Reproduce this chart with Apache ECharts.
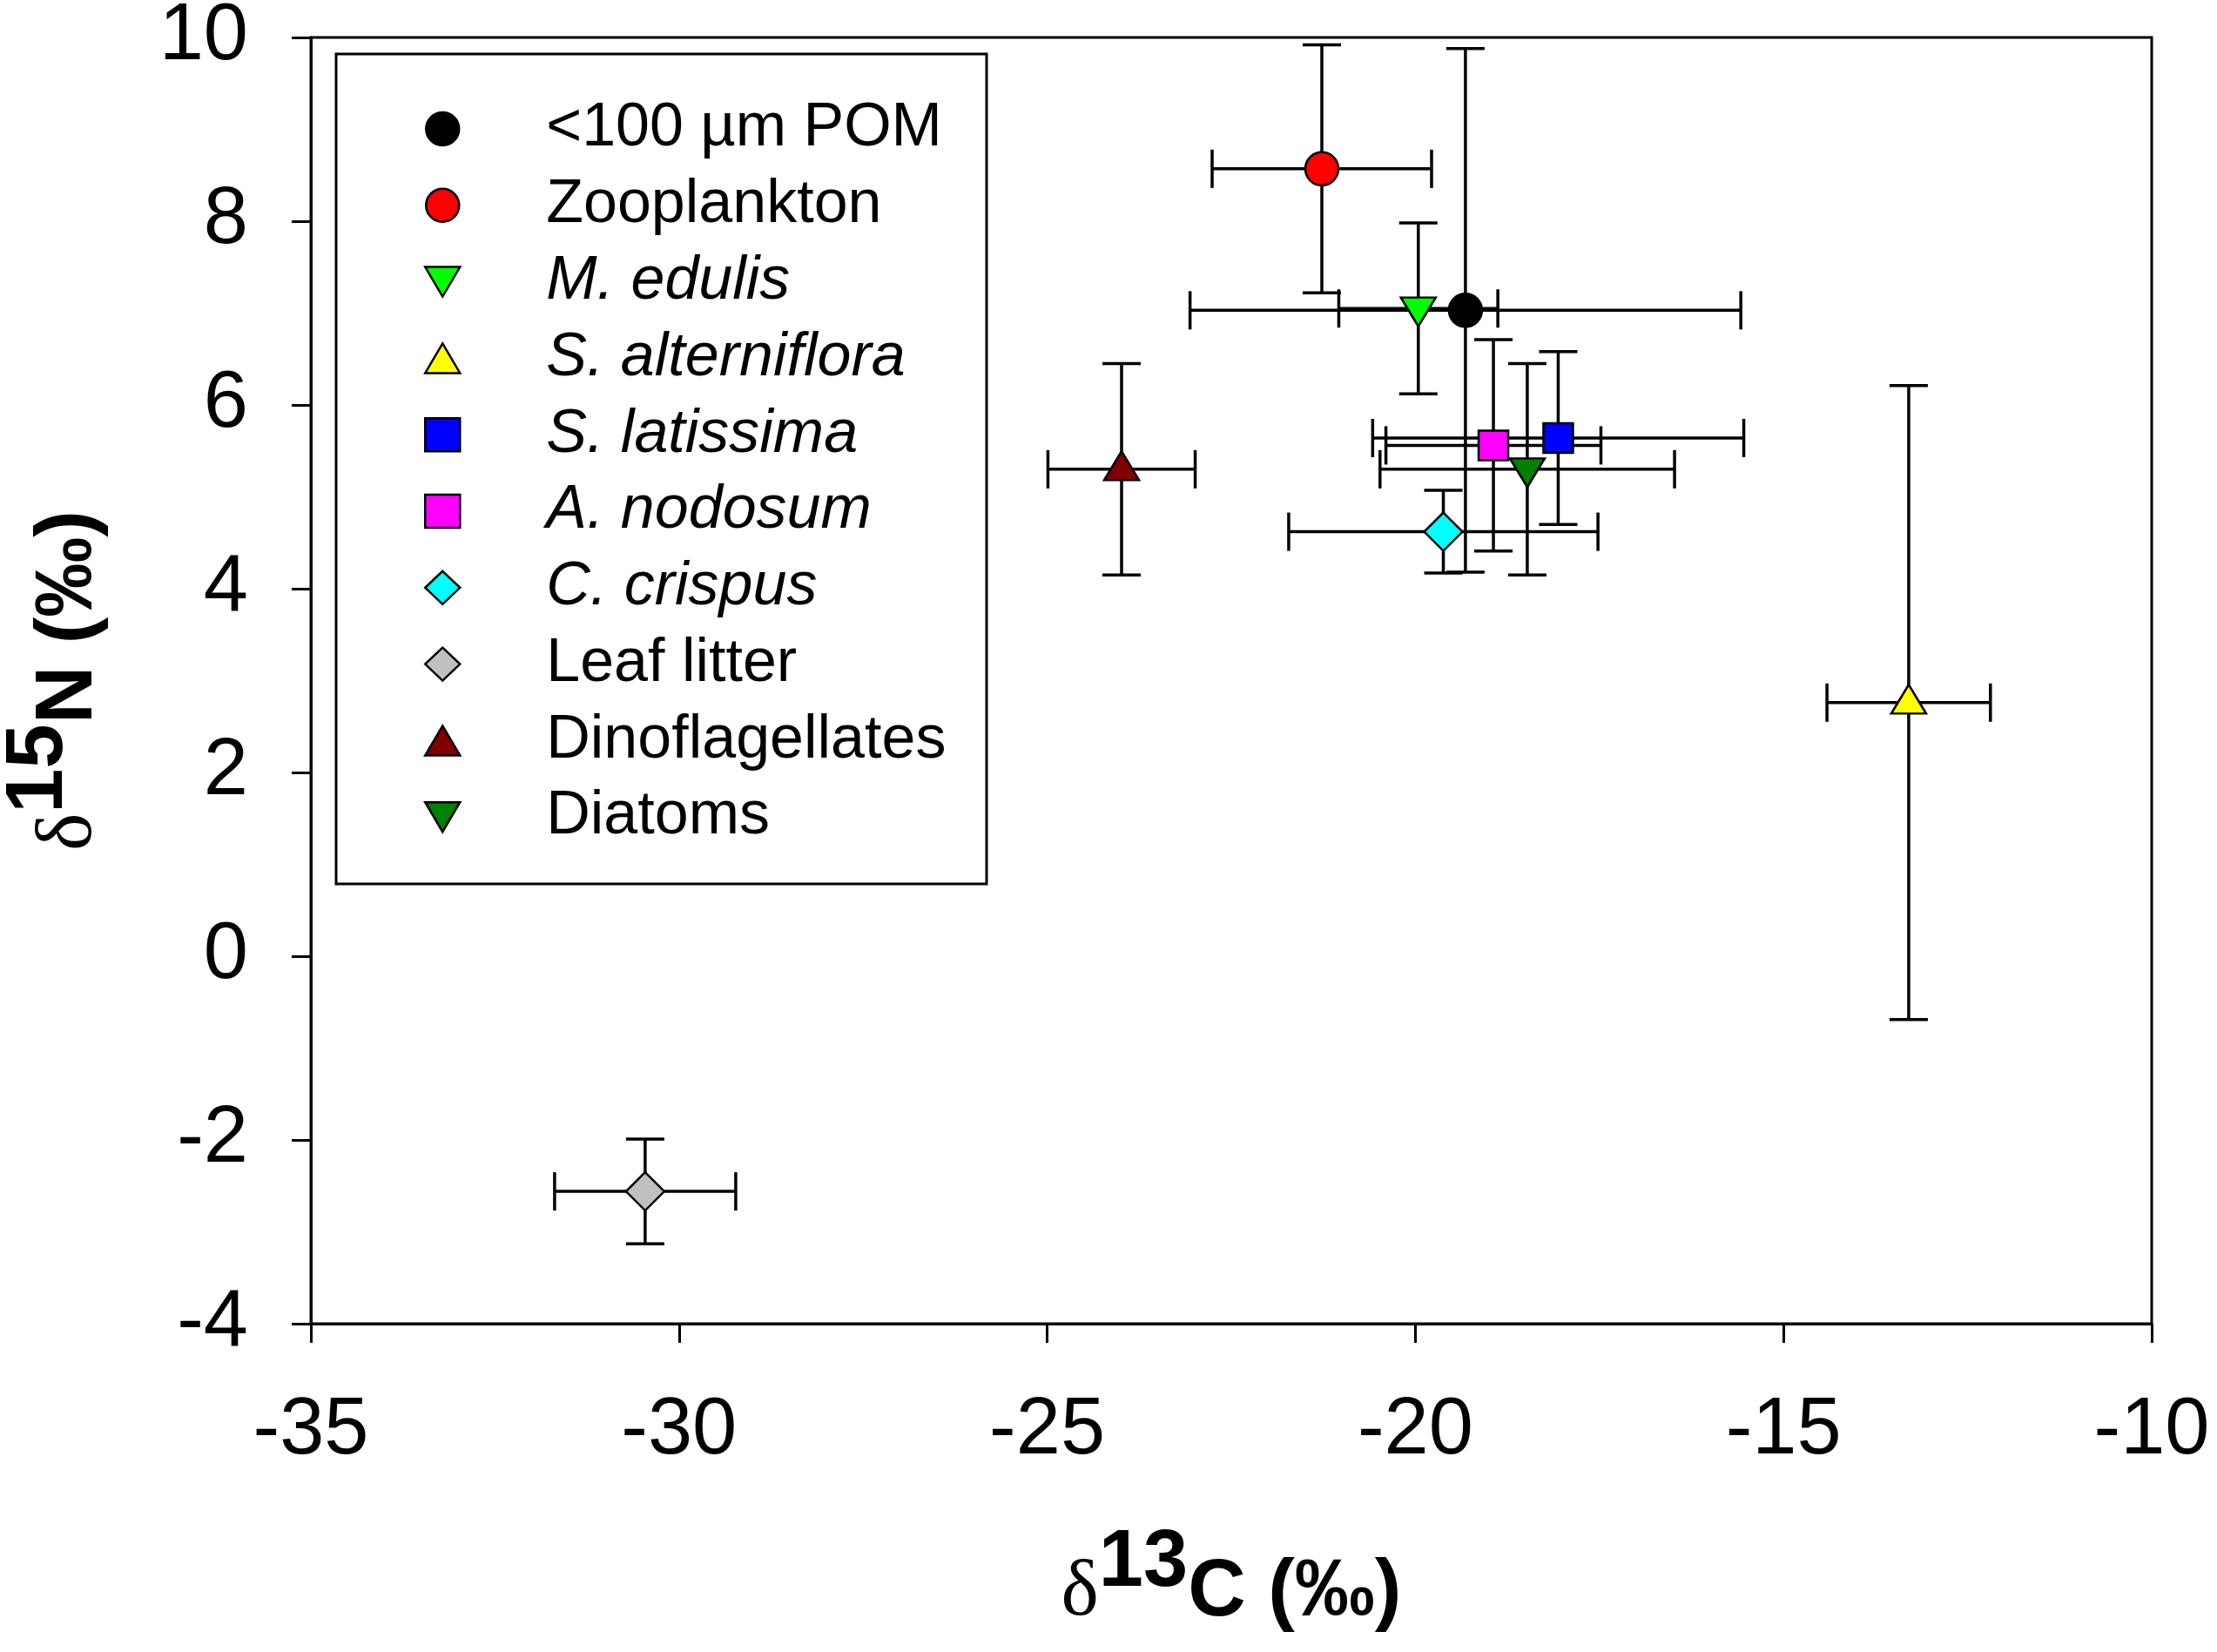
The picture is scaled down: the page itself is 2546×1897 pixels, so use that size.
<!DOCTYPE html>
<html>
<head>
    <meta charset="utf-8">
    <title>d13C vs d15N</title>
    <script src="https://cdn.jsdelivr.net/npm/echarts@6/dist/echarts.min.js"></script>
    <style>
        html, body { margin: 0; padding: 0; background: #fff; }
        #chartmain { width: 2546px; height: 1897px; }
    </style>
</head>
<body>
<div id="chartmain"></div>
<script type="text/javascript">
    // groups and their mean +/- SD
    var groups = ['<100 µm POM', 'Zooplankton', 'M. edulis', 'S. alterniflora', 'S. latissima',
                  'A. nodosum', 'C. crispus', 'Leaf litter', 'Dinoflagellates', 'Diatoms'];
    var d13C    = [-19.32, -21.27, -19.96, -13.30, -18.06, -18.94, -19.62, -30.46, -23.99, -18.48];
    var d13CErr = [3.74, 1.49, 1.08, 1.11, 2.52, 1.46, 2.10, 1.23, 1.00, 2.00];
    var d15N    = [7.03, 8.57, 7.05, 2.76, 5.64, 5.56, 4.62, -2.56, 5.30, 5.30];
    var d15NErr = [2.85, 1.35, 0.93, 3.45, 0.94, 1.15, 0.45, 0.57, 1.15, 1.15];
    var xTicks = { min: -35, max: -10, interval: 5 };
    var yTicks = { min: -4, max: 10, interval: 2 };

    // marker styles
    var colors  = ['#000000', '#ff0000', '#00ff00', '#ffff00', '#0000ff',
                   '#ff00ff', '#00ffff', '#c0c0c0', '#800000', '#008000'];
    var symbols = ['circle', 'circle', 'triangle', 'triangle', 'rect',
                   'rect', 'diamond', 'diamond', 'triangle', 'triangle'];
    var rotates = [0, 0, 180, 0, 0, 0, 0, 0, 0, 180];
    var italic  = [false, false, true, true, true, true, true, false, false, false];

    var font = 'Liberation Sans';
    var triUp = 'path://M20,0L40,34L0,34Z';
    var triDown = 'path://M0,0L40,0L20,34Z';

    function markerSize(i) {
        if (symbols[i] === 'circle') return 38;
        if (symbols[i] === 'rect') return 34;
        if (symbols[i] === 'diamond') return 44;
        return [40, 33];
    }
    function markerOffset(i) {
        if (symbols[i] !== 'triangle') return [0, 0];
        return rotates[i] ? [0, 4] : [0, -4];
    }
    function legendIcon(i) {
        if (symbols[i] === 'triangle') return rotates[i] ? triDown : triUp;
        return symbols[i];
    }

    var errData = groups.map(function (g, i) {
        return [d13C[i], d15N[i], d13CErr[i], d15NErr[i]];
    });

    var series = [{
        name: 'error',
        type: 'custom',
        z: 1,
        silent: true,
        encode: { x: 0, y: 1 },
        data: errData,
        renderItem: function (params, api) {
            var x = api.value(0), y = api.value(1), ex = api.value(2), ey = api.value(3);
            var l = api.coord([x - ex, y]), r = api.coord([x + ex, y]);
            var t = api.coord([x, y + ey]), b = api.coord([x, y - ey]);
            var cap = 22;
            var st = { stroke: '#000', lineWidth: 3.5 };
            var seg = function (x1, y1, x2, y2) {
                return { type: 'line', shape: { x1: x1, y1: y1, x2: x2, y2: y2 }, style: st };
            };
            return {
                type: 'group',
                children: [
                    seg(l[0], l[1], r[0], r[1]),
                    seg(l[0], l[1] - cap, l[0], l[1] + cap),
                    seg(r[0], r[1] - cap, r[0], r[1] + cap),
                    seg(t[0], t[1], b[0], b[1]),
                    seg(t[0] - cap, t[1], t[0] + cap, t[1]),
                    seg(b[0] - cap, b[1], b[0] + cap, b[1])
                ]
            };
        }
    }];

    groups.forEach(function (g, i) {
        series.push({
            name: g,
            type: 'scatter',
            z: 3,
            data: [[d13C[i], d15N[i]]],
            symbol: symbols[i],
            symbolSize: markerSize(i),
            symbolRotate: rotates[i],
            symbolOffset: markerOffset(i),
            itemStyle: { color: colors[i], borderColor: '#000', borderWidth: 2.5, opacity: 1 },
            emphasis: { disabled: true }
        });
    });

    var option = {
        animation: false,
        backgroundColor: '#fff',
        grid: {
            left: 357, right: 75, top: 43, bottom: 377,
            show: true, borderColor: '#000', borderWidth: 3,
            outerBoundsMode: 'none'
        },
        legend: {
            orient: 'vertical',
            left: 487,
            top: 113,
            padding: 0,
            itemWidth: 40,
            itemHeight: 38,
            itemGap: 17.8,
            selectedMode: false,
            textStyle: {
                fontFamily: font, fontSize: 70, color: '#000',
                padding: [0, 0, 0, 94]
            },
            data: groups.map(function (g, i) {
                return {
                    name: g,
                    icon: legendIcon(i),
                    itemStyle: { borderColor: '#000', borderWidth: 2.5 },
                    textStyle: { fontStyle: italic[i] ? 'italic' : 'normal' }
                };
            })
        },
        graphic: [{
            type: 'rect',
            shape: { x: 386, y: 62, width: 747, height: 953 },
            style: { fill: null, stroke: '#000', lineWidth: 3 },
            z: 0
        }],
        xAxis: {
            type: 'value',
            min: xTicks.min, max: xTicks.max, interval: xTicks.interval,
            name: '{d|δ}{s|13}{m|C (‰)}',
            nameLocation: 'middle',
            nameGap: 230,
            nameTextStyle: {
                color: '#000',
                rich: {
                    d: { fontFamily: 'Liberation Serif', fontSize: 92, color: '#000' },
                    s: { fontFamily: font, fontWeight: 'bold', fontSize: 92, color: '#000', padding: [0, 0, 68, 0] },
                    m: { fontFamily: font, fontWeight: 'bold', fontSize: 92, color: '#000' }
                }
            },
            axisLine: { onZero: false, lineStyle: { color: '#000', width: 3 } },
            axisTick: { length: 22, lineStyle: { color: '#000', width: 3 } },
            axisLabel: { fontFamily: font, fontSize: 92, color: '#000', margin: 78 },
            splitLine: { show: false }
        },
        yAxis: {
            type: 'value',
            min: yTicks.min, max: yTicks.max, interval: yTicks.interval,
            name: '{d|δ}{s|15}{m|N (‰)}',
            nameLocation: 'middle',
            nameGap: 197,
            nameTextStyle: {
                color: '#000',
                rich: {
                    d: { fontFamily: 'Liberation Serif', fontSize: 92, color: '#000' },
                    s: { fontFamily: font, fontWeight: 'bold', fontSize: 92, color: '#000', padding: [0, 0, 68, 0] },
                    m: { fontFamily: font, fontWeight: 'bold', fontSize: 92, color: '#000' }
                }
            },
            axisLine: { onZero: false, lineStyle: { color: '#000', width: 3 } },
            axisTick: { length: 22, lineStyle: { color: '#000', width: 3 } },
            axisLabel: { fontFamily: font, fontSize: 92, color: '#000', margin: 72 },
            splitLine: { show: false }
        },
        series: series
    };

    var myChart = echarts.init(document.getElementById('chartmain'));
    myChart.setOption(option);
</script>
</body>
</html>
